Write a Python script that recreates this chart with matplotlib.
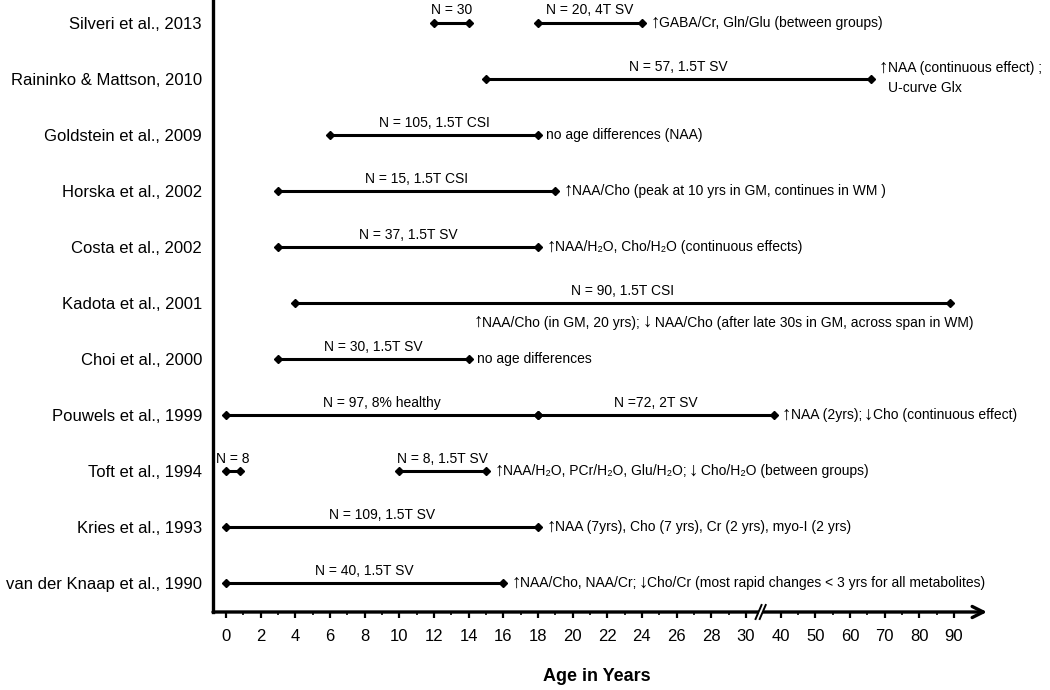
import re
import matplotlib
matplotlib.use("Agg")
import matplotlib.pyplot as plt

plt.rcParams['font.family'] = ['Liberation Sans', 'DejaVu Sans']

# ---------------- data ----------------
studies = ["Silveri et al., 2013", "Raininko & Mattson, 2010", "Goldstein et al., 2009",
           "Horska et al., 2002", "Costa et al., 2002", "Kadota et al., 2001",
           "Choi et al., 2000", "Pouwels et al., 1999", "Toft et al., 1994",
           "Kries et al., 1993", "van der Knaap et al., 1990"]

seg_study = [0, 0, 1, 2, 3, 4, 5, 6, 7, 7, 8, 8, 9, 10]
seg_start = [12, 18, 15, 6, 3, 3, 4, 3, 0, 18, 0, 10, 0, 0]
seg_end = [14, 24, 66, 18, 19, 18, 89, 14, 18, 38, 0.8, 15, 18, 16]
seg_label = ["N = 30", "N = 20, 4T SV", "N = 57, 1.5T SV", "N = 105, 1.5T CSI",
             "N = 15, 1.5T CSI", "N = 37, 1.5T SV", "N = 90, 1.5T CSI",
             "N = 30, 1.5T SV", "N = 97, 8% healthy", "N =72, 2T SV", "N = 8",
             "N = 8, 1.5T SV", "N = 109, 1.5T SV", "N = 40, 1.5T SV"]

findings = [
    "\u2191GABA/Cr, Gln/Glu (between groups)",
    "\u2191NAA (continuous effect) ;\nU-curve Glx",
    "no age differences (NAA)",
    "\u2191NAA/Cho (peak at 10 yrs in GM, continues in WM )",
    "\u2191NAA/H\u2082O, Cho/H\u2082O (continuous effects)",
    "\u2191NAA/Cho (in GM, 20 yrs); \u2193 NAA/Cho (after late 30s in GM, across span in WM)",
    "no age differences",
    "\u2191NAA (2yrs); \u2193Cho (continuous effect)",
    "\u2191NAA/H\u2082O, PCr/H\u2082O, Glu/H\u2082O; \u2193 Cho/H\u2082O (between groups)",
    "\u2191NAA (7yrs), Cho (7 yrs), Cr (2 yrs), myo-I (2 yrs)",
    "\u2191NAA/Cho, NAA/Cr; \u2193Cho/Cr (most rapid changes < 3 yrs for all metabolites)",
]

major_ticks = [0, 2, 4, 6, 8, 10, 12, 14, 16, 18, 20, 22, 24, 26, 28, 30,
               40, 50, 60, 70, 80, 90]
minor_ticks = [1, 3, 5, 7, 9, 11, 13, 15, 17, 19, 21, 23, 25, 27, 29,
               45, 55, 65, 75, 85]


# broken axis: 0-30 linear, then 40-90 compressed (10 yrs = 2 units)
def pos(age):
    return age if age <= 30 else 32 + (age - 40) / 5.0


n = len(studies)


def row(i):
    return n - 1 - i


# ---------------- figure ----------------
fig = plt.figure(figsize=(10.5, 6.9), dpi=100)
ax = fig.add_axes([213 / 1050, 78 / 690, 774 / 1050, 612 / 690])
PX = 17.33  # px per unit
ax.set_xlim(-13 / PX, 761 / PX)
ax.set_ylim(-0.512, 10.41)

NOTE_FS = 10
ARROW_FS = 13.5

for s, a, b, lab in zip(seg_study, seg_start, seg_end, seg_label):
    y = row(s)
    ax.plot([pos(a), pos(b)], [y, y], color='black', lw=2.2,
            marker='D', ms=3.8, solid_capstyle='butt', zorder=3)
    ax.annotate(lab, xy=((pos(a) + pos(b)) / 2, y), xytext=(0, 9),
                textcoords='offset points', ha='center', va='center', fontsize=NOTE_FS)


def draw_line(x, y, text, dx, dy):
    pieces = [p for p in re.split('([\u2191\u2193])', text) if p]
    prev = None
    first_body = None
    for p in pieces:
        is_arrow = p in ('\u2191', '\u2193')
        fs = ARROW_FS if is_arrow else NOTE_FS
        if prev is None:
            t = ax.annotate(p, xy=(x, y), xytext=(dx, dy), textcoords='offset points',
                            ha='left', va='center', fontsize=fs)
        else:
            if is_arrow:
                gap = -1.2 if prev.get_text().endswith(' ') else 0.4
            else:
                gap = -0.6
            t = ax.annotate(p, xy=(1, 0.5), xycoords=prev, xytext=(gap, 0),
                            textcoords='offset points', ha='left', va='center', fontsize=fs)
        if first_body is None and not is_arrow:
            first_body = t
        prev = t
    return first_body


for i, txt in enumerate(findings):
    y = row(i)
    ends = [pos(e) for s, e in zip(seg_study, seg_end) if s == i]
    lines = txt.split('\n')
    if studies[i].startswith("Kadota"):
        draw_line(14.3, y, lines[0], 0, -14)
    elif len(lines) > 1:
        body = draw_line(max(ends), y, lines[0], 6, 8)
        for k, extra in enumerate(lines[1:], start=1):
            ax.annotate(extra, xy=(0, 0.5), xycoords=body, xytext=(0, -14.5 * k),
                        textcoords='offset points', ha='left', va='center',
                        fontsize=NOTE_FS)
    else:
        draw_line(max(ends), y, lines[0], 6, 0)

ax.set_yticks([row(i) for i in range(n)])
ax.set_yticklabels(studies, fontsize=12)
ax.tick_params(axis='y', length=0, pad=8)

ax.set_xticks([pos(t) for t in major_ticks])
ax.set_xticklabels([str(t) for t in major_ticks], fontsize=12)
ax.set_xticks([pos(t) for t in minor_ticks], minor=True)
ax.tick_params(axis='x', which='major', direction='out', length=4, width=1.6, pad=8)
ax.tick_params(axis='x', which='minor', direction='out', length=2.5, width=1.2)

for sp in ['top', 'right', 'bottom']:
    ax.spines[sp].set_visible(False)
ax.spines['left'].set_linewidth(2.4)

# x-axis with arrow head
ax.annotate('', xy=(1.0, 0), xytext=(0, 0), xycoords='axes fraction',
            textcoords='axes fraction',
            arrowprops=dict(arrowstyle='->', lw=2.4, color='black',
                            mutation_scale=20, shrinkA=0, shrinkB=0))

# break marks
yb = -0.512
bx = 30.85
ax.fill_between([bx - 0.12, bx + 0.12], yb - 3 / 56, yb + 3 / 56, color='white',
                zorder=5, clip_on=False, lw=0)
for dx in (-0.12, 0.12):
    ax.plot([bx + dx - 3 / PX, bx + dx + 3 / PX], [yb - 7 / 56, yb + 7 / 56],
            color='black', lw=1.4, clip_on=False, zorder=6)

fig.text(597 / 1050, 1 - 676.7 / 690, "Age in Years", ha='center', va='center',
         fontsize=13, fontweight='bold')

fig.savefig("out.png", dpi=100)
